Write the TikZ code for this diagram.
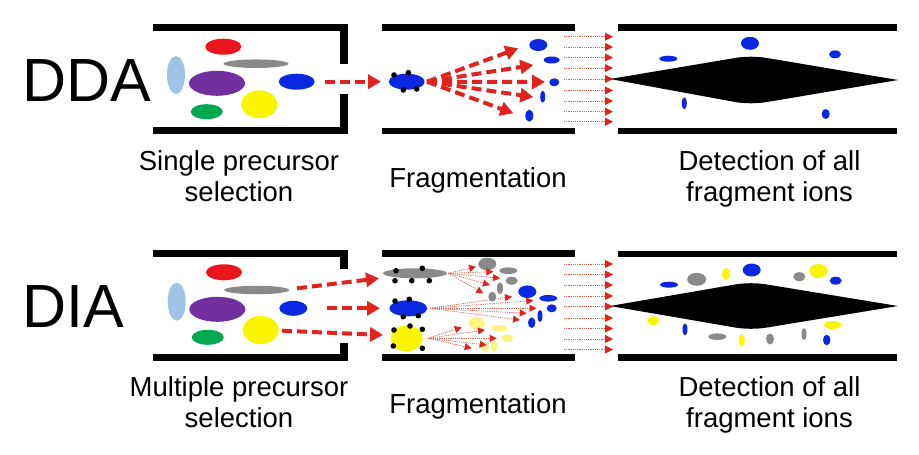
\documentclass[tikz,border=0pt]{standalone}
\usepackage{fontspec}
\setmainfont{Liberation Sans}
\usetikzlibrary{shapes.geometric,arrows.meta}
\definecolor{cRed}{HTML}{E8151B}
\definecolor{cGray}{HTML}{8A8A8A}
\definecolor{cLBlue}{HTML}{9DC3E6}
\definecolor{cPurple}{HTML}{7030A0}
\definecolor{cBlue}{HTML}{0A28E0}
\definecolor{cYellow}{HTML}{FAF500}
\definecolor{cPaleY}{HTML}{FFF580}
\definecolor{cGreen}{HTML}{00A84F}
\definecolor{cArrow}{HTML}{E0231E}
\definecolor{cThin}{HTML}{E06050}
\begin{document}
\begin{tikzpicture}[x=1pt,y=-1pt,
  ion/.style n args={3}{ellipse, fill=#1, inner sep=0pt, outer sep=0pt, minimum width=#2pt, minimum height=#3pt},
  dot/.style={circle, fill=black, inner sep=0pt, minimum size=5.6pt},
  bigarrow/.style={draw=cArrow, line width=4pt, dash pattern=on 10pt off 5pt, -{Triangle[length=13pt,width=14pt,color=cArrow]}},
  thinarrow/.style={draw=cThin, line width=0.8pt, dash pattern=on 1.2pt off 1pt, -{Triangle[length=8pt,width=8pt,color=cArrow]}},
  fanarrow/.style={draw=cThin, line width=0.7pt, dash pattern=on 1.2pt off 1pt, -{Triangle[length=7pt,width=7pt,color=cArrow]}},
  lbl/.style={font=\fontsize{27.5}{31}\selectfont, anchor=base, inner sep=0pt},
  big/.style={font=\fontsize{61}{61}\selectfont, anchor=base west, inner sep=0pt},
  barfill/.style={fill=black}]
\useasboundingbox (0,0) rectangle (919,455);

% ================= DDA row =================
\node[big] (dda) at (22,101.7) {DDA};
% box 1
\fill[barfill] (153,24.3) rectangle (348,30.7);
\fill[barfill] (340,24.3) rectangle (348,64);
\fill[barfill] (153,127.3) rectangle (348,134);
\fill[barfill] (340,94) rectangle (348,134);
\node[ion={cRed}{36}{16}] (rA) at (223.3,46.7) {};
\node[ion={cGray}{65}{8.5}] (gA) at (256,63.7) {};
\node[ion={cLBlue}{18}{38}] (lA) at (176,75) {};
\node[ion={cPurple}{56}{25}] (pA) at (217,83.3) {};
\node[ion={cBlue}{36}{16}] (bA) at (296.7,81.7) {};
\node[ion={cYellow}{36}{28}] (yA) at (259.3,104.3) {};
\node[ion={cGreen}{32}{15}] (nA) at (206.7,111.7) {};
% box 2
\fill[barfill] (381.7,24.3) rectangle (575,30.7);
\fill[barfill] (381.7,127.7) rectangle (575,134.3);
\node[ion={cBlue}{36}{16}] (pb) at (406.7,81.7) {};
\node[dot] (d1) at (394,75) {};
\node[dot] (d2) at (408.3,72.7) {};
\node[dot] (d3) at (403.3,90) {};
\node[dot] (d4) at (416.7,89) {};
\node[ion={cBlue}{18}{12}] (fb1) at (538.3,45) {};
\node[ion={cBlue}{16}{7}] (fb2) at (551.7,60) {};
\node[ion={cBlue}{10}{8}] (fb3) at (554.3,82.3) {};
\node[ion={cBlue}{5}{12}] (fb4) at (542.7,96.7) {};
\node[ion={cBlue}{8}{12}] (fb5) at (529.3,115.7) {};
\coordinate (a1s) at (325,81.7);
\coordinate (a1e) at (381,81.7);
\draw[bigarrow] (a1s) -- (a1e);
\coordinate (f0) at (427,81.7);
\coordinate (f1) at (518.3,48.3);
\coordinate (f2) at (533.3,65);
\coordinate (f3) at (545,82);
\coordinate (f4) at (533.3,97);
\coordinate (f5) at (513.3,113.3);
\foreach \t in {f1,f2,f3,f4,f5} \draw[bigarrow] (f0) -- (\t);
\foreach \i/\y in {1/36.7,2/47,3/57.5,4/68,5/79,6/90.5,7/101,8/111.7,9/121.7}{
  \coordinate (ts\i) at (564,\y);
  \coordinate (te\i) at (613,\y);
  \draw[thinarrow] (ts\i) -- (te\i);}
% box 3
\fill[barfill] (618.3,24.3) rectangle (896.7,31);
\fill[barfill] (618.3,128) rectangle (896.7,134);
\fill[black] (610,79) -- (735,58) .. controls (745,56.3) and (757,56.3) .. (767,58) -- (898,80) -- (767,102) .. controls (757,103.7) and (745,103.7) .. (735,102) -- cycle;
\node[ion={cBlue}{18}{13}] (db1) at (750,43.3) {};
\node[ion={cBlue}{18}{6}] (db2) at (668.3,58.7) {};
\node[ion={cBlue}{12}{8}] (db3) at (835,54.3) {};
\node[ion={cBlue}{5}{12}] (db4) at (684.3,103.3) {};
\node[ion={cBlue}{8}{10}] (db5) at (825.7,114) {};
% labels
\node[lbl] (l1a) at (239,170.7) {Single precursor};
\node[lbl] (l1b) at (239,201.7) {selection};
\node[lbl] (l2) at (478,187) {Fragmentation};
\node[lbl] (l3a) at (769.5,170.7) {Detection of all};
\node[lbl] (l3b) at (769.5,201.7) {fragment ions};

% ================= DIA row =================
\node[big] (dia) at (22,327.7) {DIA};
% box 1
\fill[barfill] (153,250) rectangle (348,256.7);
\fill[barfill] (340,250) rectangle (348,269);
\fill[barfill] (153,354) rectangle (348,360.7);
\fill[barfill] (340,343) rectangle (348,360.7);
\node[ion={cRed}{36}{16}] (rB) at (224,272.3) {};
\node[ion={cGray}{65}{8.5}] (gB) at (256.7,290) {};
\node[ion={cLBlue}{18}{38}] (lB) at (176.7,301.7) {};
\node[ion={cPurple}{56}{25}] (pB) at (217.3,309.3) {};
\node[ion={cBlue}{28}{15}] (bB) at (293.3,308.3) {};
\node[ion={cYellow}{36}{28}] (yB) at (260.7,330) {};
\node[ion={cGreen}{32}{15}] (nB) at (207.7,337.3) {};
% box 2
\fill[barfill] (381.7,250) rectangle (575,257.3);
\fill[barfill] (381.7,354) rectangle (575,360.7);
% gray fragments
\node[ion={cGray}{18}{12.6}] (gf1) at (487.3,264) {};
\node[ion={cGray}{18}{6.6}] (gf2) at (508.3,270.7) {};
\node[ion={cGray}{12}{8}] (gf3) at (511.7,280.7) {};
\node[ion={cGray}{6}{12}] (gf4) at (500,288.3) {};
\node[ion={cGray}{8}{10}] (gf5) at (492.3,296.7) {};
% blue fragments
\node[ion={cBlue}{18}{12.6}] (bf1) at (527.3,291.7) {};
\node[ion={cBlue}{18}{6.6}] (bf2) at (548.3,298.3) {};
\node[ion={cBlue}{10}{8}] (bf3) at (551.7,308.3) {};
\node[ion={cBlue}{5}{12}] (bf4) at (540,316) {};
\node[ion={cBlue}{7.4}{10.6}] (bf5) at (531.7,322.7) {};
% yellow fragments
\node[ion={cPaleY}{16}{12.6}] (yf1) at (476.7,323.3) {};
\node[ion={cPaleY}{16}{6.6}] (yf2) at (499.3,328.3) {};
\node[ion={cPaleY}{12}{8}] (yf3) at (507.3,338.3) {};
\node[ion={cPaleY}{6}{12}] (yf4) at (494,346) {};
\node[ion={cPaleY}{8}{10}] (yf5) at (485,346.7) {};
% precursors
\node[ion={cGray}{64}{10}] (pg) at (415,273.3) {};
\node[dot] (e1) at (396,270.7) {};
\node[dot] (e2) at (422.3,268.3) {};
\node[dot] (e3) at (395,280.7) {};
\node[dot] (e4) at (411.7,280.7) {};
\node[dot] (e5) at (429.3,280.7) {};
\node[ion={cBlue}{38}{16}] (pbb) at (408.3,308.3) {};
\node[dot] (e6) at (395,301) {};
\node[dot] (e7) at (409.3,299.3) {};
\node[dot] (e8) at (403.3,316.7) {};
\node[dot] (e9) at (418.3,315.7) {};
\node[ion={cYellow}{32}{26}] (py) at (406.7,338.3) {};
\node[dot] (e10) at (394,330) {};
\node[dot] (e11) at (410,326) {};
\node[dot] (e12) at (422.3,329.3) {};
\node[dot] (e13) at (393.3,346) {};
\node[dot] (e14) at (422.3,348.3) {};
% selection arrows
\coordinate (s1s) at (297,288.3);
\coordinate (s1e) at (379,278.3);
\coordinate (s2s) at (327,308.3);
\coordinate (s2e) at (380,308.3);
\coordinate (s3s) at (282,330.7);
\coordinate (s3e) at (383,335);
\draw[bigarrow] (s1s) -- (s1e);
\draw[bigarrow] (s2s) -- (s2e);
\draw[bigarrow] (s3s) -- (s3e);
% fans
\coordinate (g0) at (448.3,273.3);
\coordinate (g1) at (476,266.7);
\coordinate (g2) at (493.3,271.7);
\coordinate (g3) at (500,278.3);
\coordinate (g4) at (490,285);
\coordinate (g5) at (483.3,293.3);
\foreach \t in {g1,g2,g3,g4,g5} \draw[fanarrow] (g0) -- (\t);
\coordinate (h0) at (430,308.3);
\coordinate (h1) at (512,296.7);
\coordinate (h2) at (533.3,300.5);
\coordinate (h3) at (536.5,308.3);
\coordinate (h4) at (526.7,313.3);
\coordinate (h5) at (520,320);
\foreach \t in {h1,h2,h3,h4,h5} \draw[fanarrow] (h0) -- (\t);
\coordinate (k0) at (428.3,338.3);
\coordinate (k1) at (461.7,327.3);
\coordinate (k2) at (485,330);
\coordinate (k3) at (496.7,338.3);
\coordinate (k4) at (486.7,345);
\coordinate (k5) at (471.7,348.3);
\foreach \t in {k1,k2,k3,k4,k5} \draw[fanarrow] (k0) -- (\t);
\foreach \i/\y in {1/264,2/274.5,3/285,4/296,5/306.5,6/318,7/328.5,8/339,9/349.5}{
  \coordinate (us\i) at (564,\y);
  \coordinate (ue\i) at (613,\y);
  \draw[thinarrow] (us\i) -- (ue\i);}
% box 3
\fill[barfill] (618.3,250.7) rectangle (896.7,257.3);
\fill[barfill] (618.3,354) rectangle (896.7,360.7);
\fill[black] (610,306) -- (735,284.5) .. controls (745,282.8) and (757,282.8) .. (767,284.5) -- (898,306) -- (767,327.5) .. controls (757,329.2) and (745,329.2) .. (735,327.5) -- cycle;
\node[ion={cBlue}{18}{13}] (x1) at (751.7,270) {};
\node[ion={cBlue}{18}{6}] (x2) at (669,284.7) {};
\node[ion={cGray}{19}{13}] (x3) at (696.7,279.3) {};
\node[ion={cYellow}{7.4}{12}] (x4) at (726,274) {};
\node[ion={cGray}{12}{9}] (x5) at (799.3,276.7) {};
\node[ion={cYellow}{18}{14}] (x6) at (818.3,271) {};
\node[ion={cBlue}{12}{8}] (x7) at (835.7,280.7) {};
\node[ion={cYellow}{12}{9}] (x8) at (653.3,320.7) {};
\node[ion={cBlue}{5}{12}] (x9) at (685,329.3) {};
\node[ion={cGray}{18}{6.6}] (x10) at (717.3,336.7) {};
\node[ion={cYellow}{6}{12}] (x11) at (741.7,340) {};
\node[ion={cGray}{8}{11}] (x12) at (770,339) {};
\node[ion={cGray}{5}{12}] (x13) at (804,334) {};
\node[ion={cYellow}{17}{8}] (x14) at (832.7,325) {};
\node[ion={cBlue}{7.4}{10.6}] (x15) at (826.7,340) {};
% labels
\node[lbl] (m1a) at (239,396.7) {Multiple precursor};
\node[lbl] (m1b) at (239,427.7) {selection};
\node[lbl] (m2) at (478,413) {Fragmentation};
\node[lbl] (m3a) at (769.5,396.7) {Detection of all};
\node[lbl] (m3b) at (769.5,427.7) {fragment ions};
\end{tikzpicture}
\end{document}
